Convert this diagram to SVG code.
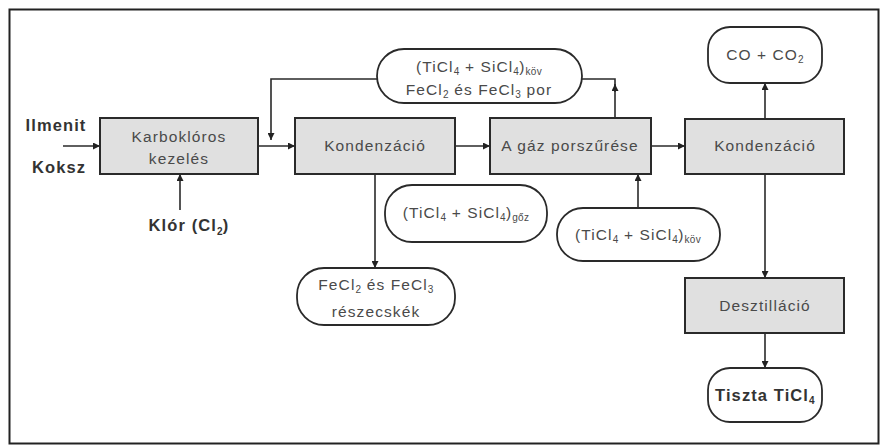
<svg xmlns="http://www.w3.org/2000/svg" width="882" height="446" viewBox="0 0 882 446">
<defs>
<marker id="ah" viewBox="0 0 10 10" refX="10" refY="5" markerWidth="8" markerHeight="7" markerUnits="userSpaceOnUse" orient="auto">
<path d="M0,0 L10,5 L0,10 z" fill="#222"/>
</marker>
<style>
.box{fill:#e0e0e0;stroke:#2a2a2a;stroke-width:2}
.pill{fill:#fff;stroke:#2a2a2a;stroke-width:1.8}
.t{font-family:"Liberation Sans",Arial,sans-serif;font-size:15.5px;fill:#4a4a4a;letter-spacing:1.1px;text-anchor:middle}
.b{font-family:"Liberation Sans",Arial,sans-serif;font-size:16.5px;font-weight:bold;fill:#333;letter-spacing:1.1px;text-anchor:middle}
.s{font-size:10px;letter-spacing:0.3px}
.c{fill:none;stroke:#2a2a2a;stroke-width:1.6}
</style>
</defs>
<rect x="9.5" y="9.5" width="869" height="434" fill="#fff" stroke="#222" stroke-width="2"/>

<g id="connectors">
<line class="c" x1="63" y1="146" x2="100" y2="146" marker-end="url(#ah)"/>
<line class="c" x1="180" y1="210" x2="180" y2="174" marker-end="url(#ah)"/>
<line class="c" x1="258" y1="146" x2="295" y2="146" marker-end="url(#ah)"/>
<path class="c" d="M377,79 H271 V140" marker-end="url(#ah)"/>
<line class="c" x1="455" y1="146" x2="490" y2="146" marker-end="url(#ah)"/>
<path class="c" d="M582,79 H615 V92"/>
<line class="c" x1="615" y1="118" x2="615" y2="84" marker-end="url(#ah)"/>
<line class="c" x1="651" y1="146" x2="685" y2="146" marker-end="url(#ah)"/>
<line class="c" x1="375" y1="174" x2="375" y2="268" marker-end="url(#ah)"/>
<line class="c" x1="638" y1="208" x2="638" y2="174" marker-end="url(#ah)"/>
<line class="c" x1="765" y1="119" x2="765" y2="83" marker-end="url(#ah)"/>
<line class="c" x1="765" y1="174" x2="765" y2="278" marker-end="url(#ah)"/>
<line class="c" x1="765" y1="333" x2="765" y2="368" marker-end="url(#ah)"/>
</g>

<g id="ilmenit"><text class="b" x="56" y="131">Ilmenit</text></g>
<g id="koksz"><text class="b" x="59" y="173">Koksz</text></g>
<g id="klor"><text class="b" x="189" y="231">Klór (Cl<tspan class="s" dy="4">2</tspan><tspan dy="-4">)</tspan></text></g>

<g id="karboklor">
<rect class="box" x="100" y="118" width="158" height="56"/>
<text class="t" x="179" y="142">Karboklóros</text>
<text class="t" x="179" y="164">kezelés</text>
</g>
<g id="kondenzacio1">
<rect class="box" x="295" y="118" width="160" height="56"/>
<text class="t" x="375" y="151">Kondenzáció</text>
</g>
<g id="porszures">
<rect class="box" x="490" y="118" width="161" height="56"/>
<text class="t" x="570" y="151">A gáz porszűrése</text>
</g>
<g id="kondenzacio2">
<rect class="box" x="685" y="119" width="159" height="55"/>
<text class="t" x="765" y="151">Kondenzáció</text>
</g>
<g id="desztillacio">
<rect class="box" x="685" y="278" width="159" height="55"/>
<text class="t" x="765" y="311">Desztilláció</text>
</g>

<g id="co">
<rect class="pill" x="708" y="27" width="114" height="56" rx="22"/>
<text class="t" x="765" y="60">CO + CO<tspan class="s" dy="3">2</tspan></text>
</g>
<g id="tiszta">
<rect class="pill" x="708" y="368" width="114" height="54" rx="22"/>
<text class="b" x="765" y="401">Tiszta TiCl<tspan class="s" dy="3">4</tspan></text>
</g>
<g id="visszakeringetes">
<rect class="pill" x="377" y="49" width="205" height="54" rx="27"/>
<text class="t" x="479" y="72">(TiCl<tspan class="s" dy="3">4</tspan><tspan dy="-3"> + SiCl</tspan><tspan class="s" dy="3">4</tspan><tspan dy="-3">)</tspan><tspan class="s" dy="3">köv</tspan></text>
<text class="t" x="479" y="95">FeCl<tspan class="s" dy="3">2</tspan><tspan dy="-3"> és FeCl</tspan><tspan class="s" dy="3">3</tspan><tspan dy="-3"> por</tspan></text>
</g>
<g id="goz">
<rect class="pill" x="385" y="185" width="162" height="57" rx="27"/>
<text class="t" x="466" y="218">(TiCl<tspan class="s" dy="3">4</tspan><tspan dy="-3"> + SiCl</tspan><tspan class="s" dy="3">4</tspan><tspan dy="-3">)</tspan><tspan class="s" dy="3">gőz</tspan></text>
</g>
<g id="kov">
<rect class="pill" x="557" y="208" width="163" height="53" rx="26"/>
<text class="t" x="638" y="240">(TiCl<tspan class="s" dy="3">4</tspan><tspan dy="-3"> + SiCl</tspan><tspan class="s" dy="3">4</tspan><tspan dy="-3">)</tspan><tspan class="s" dy="3">köv</tspan></text>
</g>
<g id="reszecskek">
<rect class="pill" x="297" y="268" width="158" height="57" rx="27"/>
<text class="t" x="376" y="290">FeCl<tspan class="s" dy="3">2</tspan><tspan dy="-3"> és FeCl</tspan><tspan class="s" dy="3">3</tspan></text>
<text class="t" x="376" y="317">részecskék</text>
</g>
</svg>
